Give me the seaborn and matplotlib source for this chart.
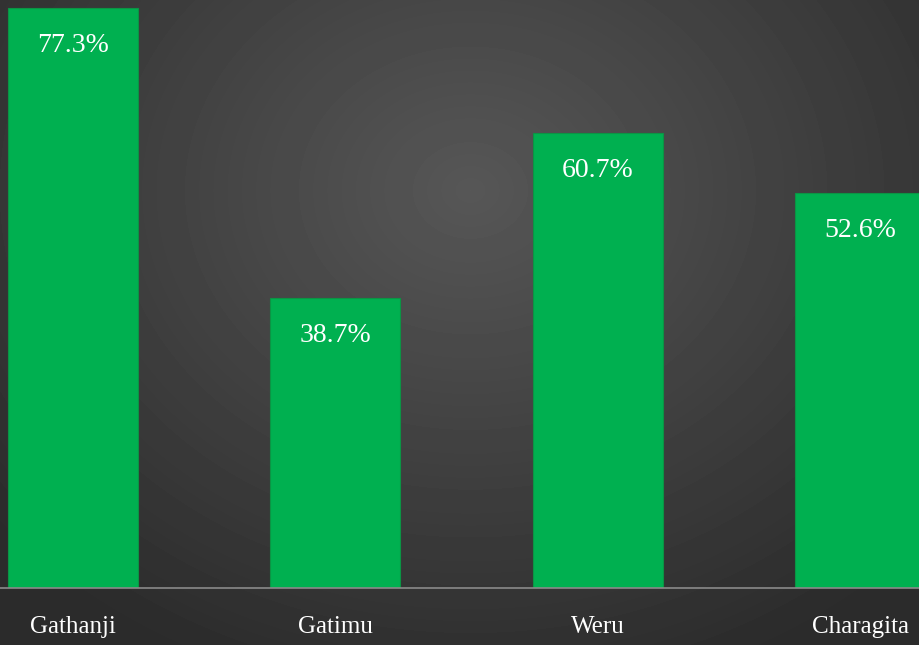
import numpy as np
import pandas as pd
import matplotlib
matplotlib.use("Agg")
import matplotlib.pyplot as plt
import seaborn as sns

# values
villages = ['Gathanji', 'Gatimu', 'Weru', 'Charagita']
share = [77.3, 38.7, 60.7, 52.6]

df = pd.DataFrame({'village': villages, 'share': share})

sns.set_style('white')
plt.rcParams['font.family'] = ['Liberation Serif', 'DejaVu Serif']

fig = plt.figure(figsize=(9.2, 6.45), dpi=100)

# dark radial gradient background
bg = fig.add_axes([0, 0, 1, 1], zorder=0)
yy, xx = np.mgrid[0:645, 0:920]
r = np.sqrt(((xx - 470) / 620.0) ** 2 + ((yy - 190) / 520.0) ** 2)
shade = np.clip(0.34 - 0.17 * r, 0.17, 0.34)
bg.imshow(shade, cmap='gray', vmin=0, vmax=1, aspect='auto', extent=[0, 1, 0, 1], origin='upper')
bg.axis('off')

ax = fig.add_axes([0, 1 - 588 / 645, 1, 588 / 645], zorder=1)
ax.patch.set_alpha(0)
sns.barplot(data=df, x='village', y='share', color='#00b050', saturation=1,
            width=0.495, edgecolor='#0b9444', linewidth=0.8, ax=ax)

ax.set_xlim(-0.278, 3.227)
ax.set_ylim(0, 78.37)

for i, v in enumerate(share):
    ax.annotate(f'{v}%', (i, v), xytext=(0, -27), textcoords='offset points',
                ha='center', va='center', color='white', fontsize=20)

ax.set_xlabel('')
ax.set_ylabel('')
ax.set_yticks([])
ax.tick_params(axis='x', length=0, pad=20, labelsize=18, colors='white')
for s in ['top', 'left', 'right']:
    ax.spines[s].set_visible(False)
ax.spines['bottom'].set_color('#8a8a8a')
ax.spines['bottom'].set_linewidth(1.2)

fig.savefig('out.png', dpi=100)
